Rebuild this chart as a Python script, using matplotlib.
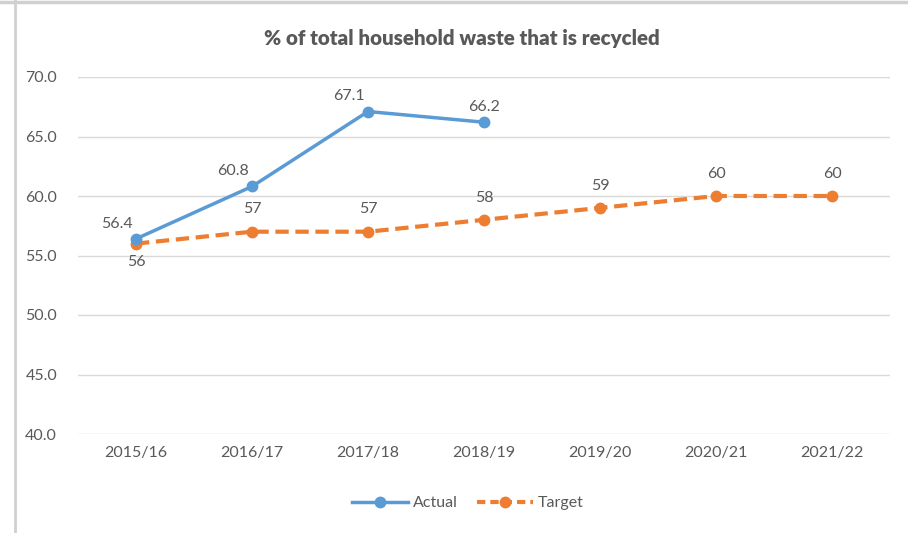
import matplotlib
matplotlib.use("Agg")
import matplotlib.pyplot as plt
from matplotlib.lines import Line2D

categories = ["2015/16", "2016/17", "2017/18", "2018/19", "2019/20", "2020/21", "2021/22"]
actual = [56.4, 60.8, 67.1, 66.2]
target = [56, 57, 57, 58, 59, 60, 60]
yticks = [40.0, 45.0, 50.0, 55.0, 60.0, 65.0, 70.0]

plt.rcParams['font.family'] = ['Lato', 'DejaVu Sans']
grey = "#595959"
blue = "#5b9bd5"
orange = "#ed7d31"
fs = 11.5

fig = plt.figure(figsize=(9.08, 5.33), dpi=100)
ax = fig.add_axes([78/908, 1-434/533, (890-78)/908, (434-77)/533])

x = list(range(len(categories)))
ax.plot(x, target, color=orange, lw=3, ls=(0, (3.2, 1.6)), marker='o', ms=7.5, zorder=3)
ax.plot(x[:len(actual)], actual, color=blue, lw=2.5, marker='o', ms=7.5, zorder=4)

for i, v in enumerate(actual):
    ax.annotate(f"{v:.1f}", (i, v), xytext=(-14 if i < 3 else 0, 6), textcoords='offset points',
                ha='center', va='bottom', fontsize=fs, color=grey)
for i, v in enumerate(target):
    if i == 0:
        ax.annotate(f"{v}", (i, v), xytext=(0, -8), textcoords='offset points',
                    ha='center', va='top', fontsize=fs, color=grey)
    else:
        ax.annotate(f"{v}", (i, v), xytext=(0, 11), textcoords='offset points',
                    ha='center', va='bottom', fontsize=fs, color=grey)

ax.set_xlim(-0.5, len(categories) - 0.5)
ax.set_ylim(40, 70)
ax.set_yticks(yticks)
ax.set_yticklabels([f"{t:.1f}" for t in yticks])
ax.set_xticks(x)
ax.set_xticklabels(categories)
ax.tick_params(axis='both', length=0, colors=grey, labelsize=fs)
ax.tick_params(axis='y', pad=15)
ax.tick_params(axis='x', pad=9)
ax.grid(axis='y', color='#d9d9d9', lw=1)
ax.set_axisbelow(True)
for s in ax.spines.values():
    s.set_visible(False)

fig.text(462/908, 1-38/533, "% of total household waste that is recycled", ha='center', va='center',
         fontsize=14.8, fontweight='heavy', color=grey)

handles = [Line2D([], [], color=blue, lw=2.5, marker='o', ms=7.5),
           Line2D([], [], color=orange, lw=3, ls=(0, (2, 1.2)), marker='o', ms=7.5)]
fig.legend(handles, ["Actual", "Target"], loc='center', bbox_to_anchor=(468/908, 1-503/533),
           ncol=2, frameon=False, fontsize=fs, labelcolor=grey, handlelength=3.5,
           columnspacing=1.2, handletextpad=0.3)

# frame lines
fig.add_artist(Line2D([15/908, 15/908], [0, 1], color='#d0d0d0', lw=2, transform=fig.transFigure))
fig.add_artist(Line2D([0, 1], [1-2/533, 1-2/533], color='#d0d0d0', lw=2.5, transform=fig.transFigure))

fig.savefig("out.png", dpi=100)
